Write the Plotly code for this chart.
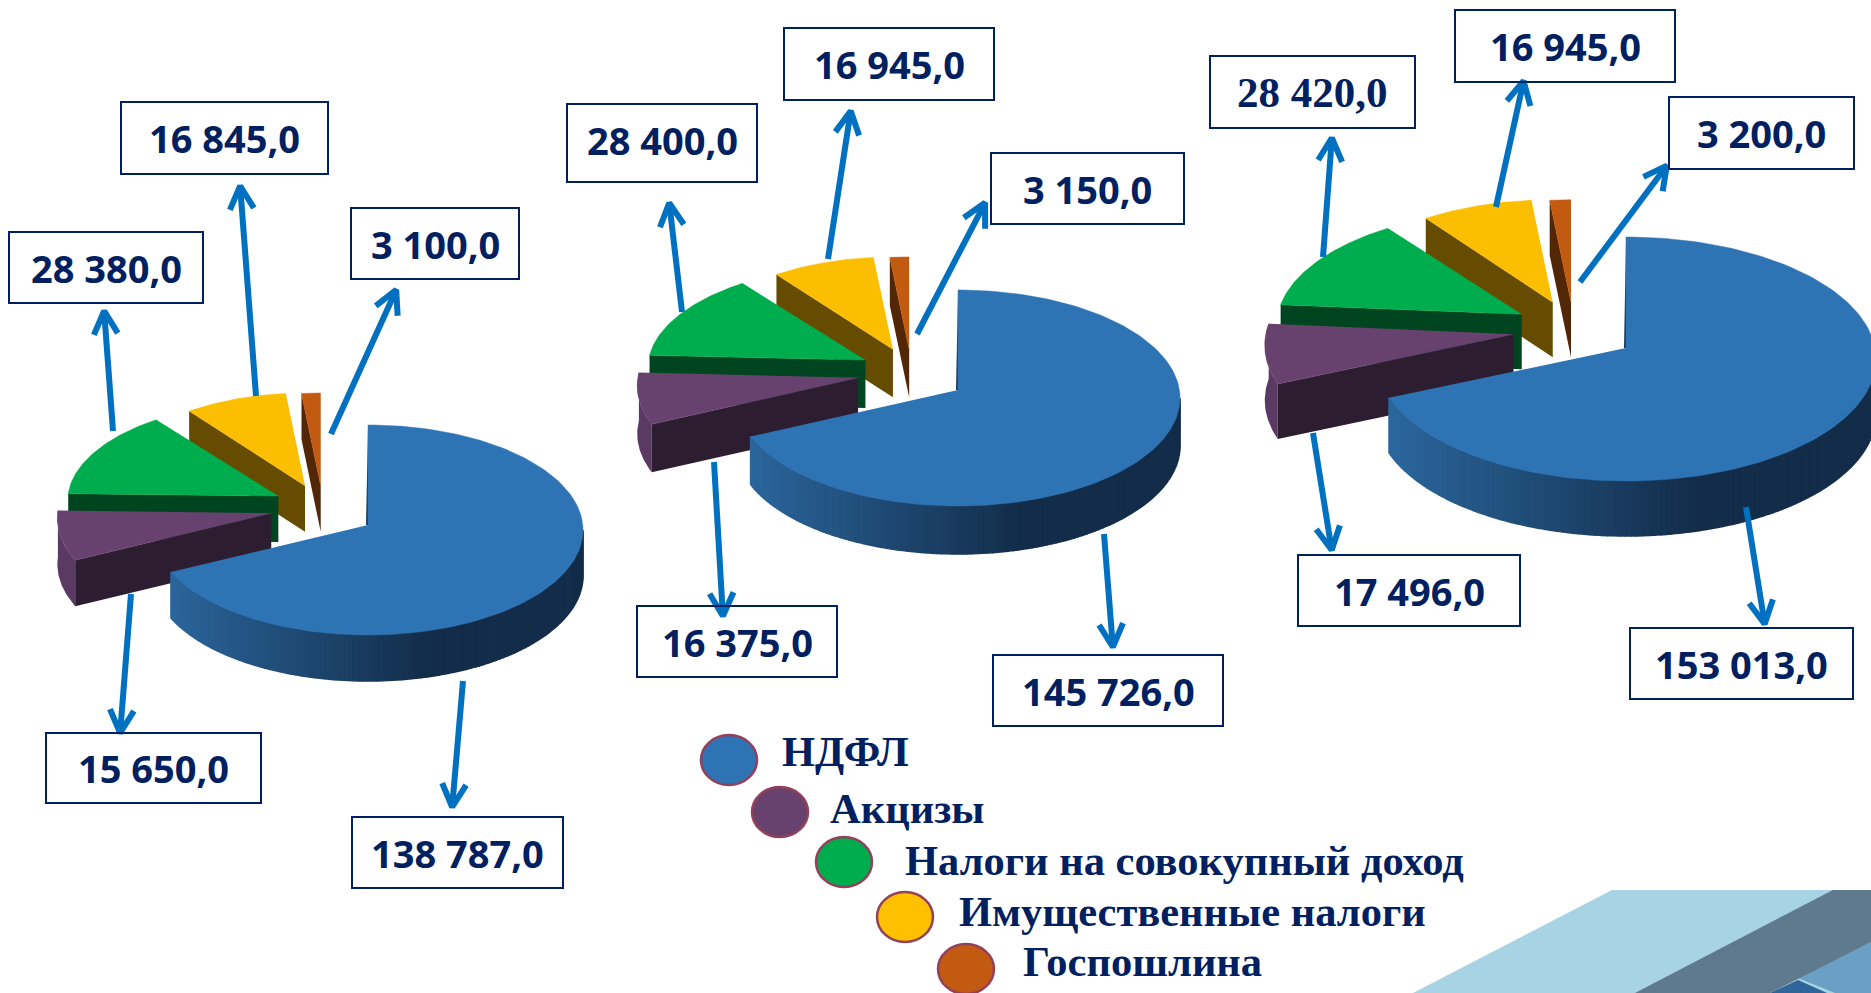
import math
import plotly.graph_objects as go

# ---------- data ----------
CATEGORIES = ["НДФЛ", "Акцизы", "Налоги на совокупный доход", "Имущественные налоги", "Госпошлина"]
VALUES_1 = [138787.0, 15650.0, 28380.0, 16845.0, 3100.0]
VALUES_2 = [145726.0, 16375.0, 28400.0, 16945.0, 3150.0]
VALUES_3 = [153013.0, 17496.0, 28420.0, 16945.0, 3200.0]

# ---------- styles ----------
TOP = ["#2E74B5", "#68426F", "#00AD4E", "#FBBE00", "#C35A11"]
FACE = [None, "#2C1D31", "#014520", "#654C00", "#522707"]
RIM = [None, "#5A3A63", "#014520", "#654C00", "#522707"]
WALL_LEFT = (43, 102, 156)
WALL_RIGHT = (19, 44, 73)
NAVY = "#002060"
ARROW = "#0070C0"
EXPLODE = [(0, 0), (-0.45, -0.055), (-0.417, -0.135), (-0.293, -0.183), (-0.22, -0.183)]
SLICE_R = [(1, 1), (0.995, 1.0), (0.98, 0.95), (0.93, 0.93), (0.93, 0.93)]

PIES = [
    dict(values=VALUES_1, ax=368, ay=525, rx=215, ry=105, ey=530, depth=46),
    dict(values=VALUES_2, ax=958, ay=390, rx=222, ry=108, ey=398, depth=48),
    dict(values=VALUES_3, ax=1626, ay=348, rx=250, ry=122, ey=359, depth=55),
]

# box: x0, x1, y0, y1 ; arrow: tail x, tail y, tip x, tip y (one row per category, per pie)
BOXES = [
    [(352, 563, 817, 888), (46, 261, 733, 803), (9, 203, 232, 303), (121, 328, 102, 174), (351, 519, 208, 279)],
    [(993, 1223, 655, 726), (637, 837, 606, 677), (567, 757, 104, 182), (784, 994, 28, 100), (991, 1184, 153, 224)],
    [(1630, 1853, 628, 699), (1298, 1520, 555, 626), (1210, 1415, 56, 128), (1455, 1675, 10, 82), (1669, 1854, 97, 169)],
]
ARROWS = [
    [(463, 681, 452, 809), (131, 594, 120, 735), (113, 431, 104, 309), (256, 396, 240, 184), (331, 434, 397, 288)],
    [(1104, 534, 1113, 649), (714, 462, 723, 618), (682, 312, 669, 201), (828, 259, 851, 109), (917, 334, 986, 201)],
    [(1746, 507, 1765, 626), (1313, 433, 1332, 552), (1323, 257, 1332, 136), (1496, 207, 1524, 79), (1580, 282, 1668, 164)],
]
LEGEND_DOTS = [(729, 760), (780, 812), (844, 862), (905, 917), (966, 969)]
LEGEND_TEXT = [(780, 751), (828, 808), (903, 860), (957, 911), (1021, 961)]

W, H = 1871, 993
fig = go.Figure()


def poly(xs, ys, color, lw=0.0):
    fig.add_trace(go.Scatter(
        x=xs, y=ys, mode="lines", fill="toself", fillcolor=color,
        line=dict(color=color, width=lw), hoverinfo="skip", showlegend=False))


def arc(p, apex, t0, t1, n=60, dy=0, scale=(1, 1)):
    out = []
    for i in range(n + 1):
        t = math.radians(t0 + (t1 - t0) * i / n)
        out.append((apex[0] + scale[0] * p["rx"] * math.sin(t),
                    apex[1] + (p["ey"] - p["ay"]) - scale[1] * p["ry"] * math.cos(t) + dy))
    return out


def draw_pie(p):
    vals = p["values"]
    total = sum(vals)
    angles = [0]
    for v in vals:
        angles.append(angles[-1] + 360 * v / total)
    apexes = [(p["ax"] + e[0] * p["rx"], p["ay"] + e[1] * p["rx"]) for e in EXPLODE]
    d = p["depth"]
    # back to front: small slices from the last, then the largest one
    for i in [4, 3, 2, 1]:
        apex = apexes[i]
        a = arc(p, apex, angles[i], angles[i + 1], scale=SLICE_R[i])
        s = a[0]
        if i == 1:
            low = arc(p, apex, angles[i], angles[i + 1], dy=d, scale=SLICE_R[i])
            poly([q[0] for q in a] + [q[0] for q in low[::-1]],
                 [q[1] for q in a] + [q[1] for q in low[::-1]], RIM[i])
        poly([apex[0], s[0], s[0], apex[0]], [apex[1], s[1], s[1] + d, apex[1] + d], FACE[i])
        poly([apex[0]] + [q[0] for q in a], [apex[1]] + [q[1] for q in a], TOP[i], 0.5)
    # largest slice: thin tapered cut edge, front wall with horizontal shading, then top
    apex = apexes[0]
    top_y = p["ey"] - p["ry"]
    poly([apex[0], apex[0] - 2, apex[0] + 1], [top_y + 4, apex[1], apex[1]], "#17395E")
    n = 120
    t_start, t_end = 90, angles[1]
    for k in range(n):
        t0 = t_start + (t_end - t_start) * k / n
        t1 = t_start + (t_end - t_start) * (k + 1) / n
        up = arc(p, apex, t0, t1, n=2)
        lo = arc(p, apex, t0, t1, n=2, dy=d)
        frac = (apex[0] + 0.3 * p["rx"] - up[1][0]) / (p["rx"] * 1.23)
        f = max(0.0, min(1.0, frac))
        c = tuple(int(WALL_RIGHT[j] + (WALL_LEFT[j] - WALL_RIGHT[j]) * f) for j in range(3))
        col = "rgb(%d,%d,%d)" % c
        poly([q[0] for q in up] + [q[0] for q in lo[::-1]],
             [q[1] for q in up] + [q[1] for q in lo[::-1]], col, 1.5)
    a = arc(p, apex, 0, angles[1], n=160)
    poly([apex[0]] + [q[0] for q in a], [apex[1]] + [q[1] for q in a], TOP[0], 0.5)


def draw_arrow(x0, y0, x1, y1):
    L = math.hypot(x1 - x0, y1 - y0)
    ux, uy = (x1 - x0) / L, (y1 - y0) / L
    head, half = 25, 12
    xs = [x1 - ux * head - uy * half, x1 - ux * 2, x1 - ux * head + uy * half]
    ys = [y1 - uy * head + ux * half, y1 - uy * 2, y1 - uy * head - ux * half]
    fig.add_trace(go.Scatter(x=[x0, x1 - ux * 4], y=[y0, y1 - uy * 4], mode="lines",
                             line=dict(color=ARROW, width=6), hoverinfo="skip", showlegend=False))
    fig.add_trace(go.Scatter(x=xs, y=ys, mode="lines",
                             line=dict(color=ARROW, width=6), hoverinfo="skip", showlegend=False))


def fmt(v):
    return f"{v:,.1f}".replace(",", " ").replace(".", ",")


# background decoration
DECOR = [
    ("#A7D3E5", "M1612,890 L1871,890 L1871,993 L1413,993 Z"),
    ("#6C9FC4", "M1871,942 L1798,978 L1835,993 L1871,993 Z"),
    ("#2F6598", "M1798,980 L1770,993 L1827,993 Z"),
    ("#5F7A8C", "M1833,890 L1871,890 L1871,942 L1770,993 L1635,993 Z"),
]
shapes = [dict(type="path", path=pth, fillcolor=c, line=dict(width=0), layer="below") for c, pth in DECOR]

for p in PIES:
    draw_pie(p)

annotations = []
for pi, p in enumerate(PIES):
    for ci, v in enumerate(p["values"]):
        x0, x1, y0, y1 = BOXES[pi][ci]
        draw_arrow(*ARROWS[pi][ci])
        shapes.append(dict(type="rect", x0=x0, x1=x1, y0=y0, y1=y1, xref="x", yref="y",
                           line=dict(color=NAVY, width=2), fillcolor="rgba(255,255,255,0)", layer="above"))
        serif = (pi == 2 and ci == 2)
        dy = -3 if (pi == 1 and ci == 2) else 0
        annotations.append(dict(
            x=(x0 + x1) / 2, y=(y0 + y1) / 2 + dy, xref="x", yref="y", text=f"<b>{fmt(v)}</b>", showarrow=False,
            font=dict(family="Liberation Serif" if serif else "Open Sans", size=43 if serif else 38, color=NAVY)))

for i, name in enumerate(CATEGORIES):
    cx, cy = LEGEND_DOTS[i]
    shapes.append(dict(type="circle", x0=cx - 28, x1=cx + 28, y0=cy - 25, y1=cy + 25, xref="x", yref="y",
                       fillcolor=TOP[i] if i != 3 else "#FFC000", line=dict(color="#93405A", width=2.5), layer="above"))
    tx, ty = LEGEND_TEXT[i]
    annotations.append(dict(x=tx, y=ty, xref="x", yref="y", xanchor="left", yanchor="middle",
                            text=f"<b>{name}</b>", showarrow=False,
                            font=dict(family="Liberation Serif", size=42.5, color=NAVY)))

fig.update_layout(
    width=W, height=H, margin=dict(l=0, r=0, t=0, b=0),
    paper_bgcolor="white", plot_bgcolor="rgba(0,0,0,0)", showlegend=False,
    xaxis=dict(range=[0, W], visible=False, fixedrange=True),
    yaxis=dict(range=[H, 0], visible=False, fixedrange=True),
    shapes=shapes, annotations=annotations,
)

fig.write_html("out.html", config={"displayModeBar": False},
               post_script="document.body.style.margin='0';document.body.style.overflow='hidden';")
